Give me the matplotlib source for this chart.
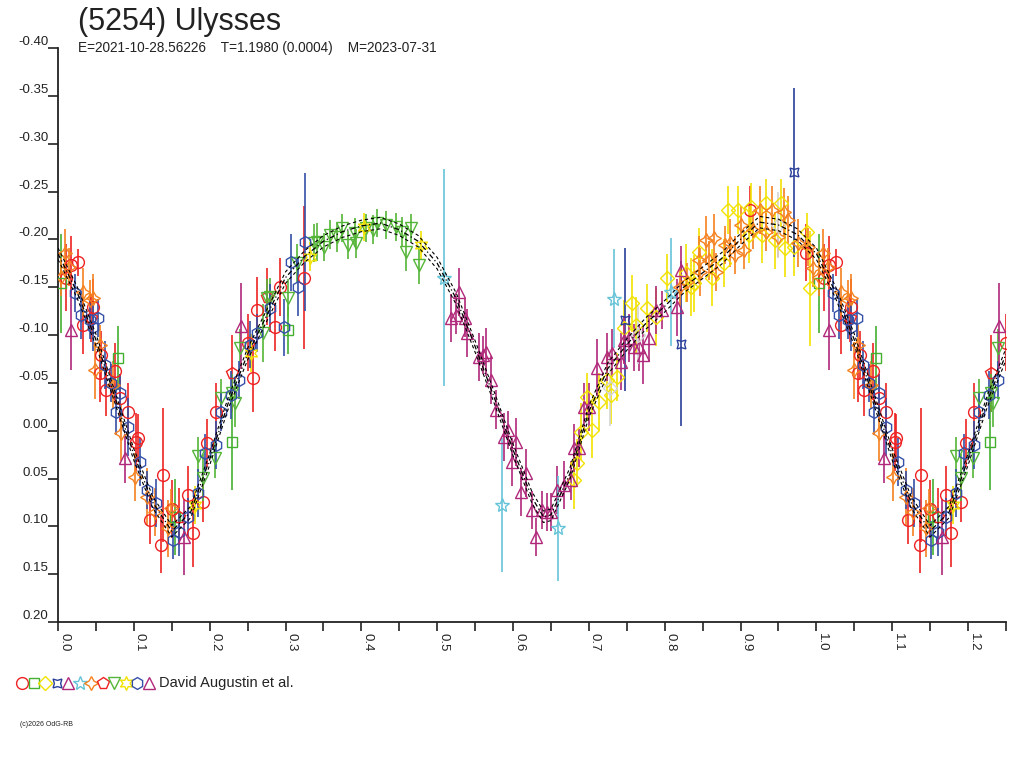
import numpy as np
import matplotlib
matplotlib.use("Agg")
import matplotlib.pyplot as plt

plt.rcParams['font.family'] = ['Liberation Sans', 'DejaVu Sans']

# fitted lightcurve (phase, reduced magnitude)
curve_phase = [0.000, 0.025, 0.050, 0.075, 0.100, 0.125, 0.150, 0.175, 0.200, 0.225,
               0.250, 0.275, 0.300, 0.325, 0.350, 0.375, 0.400, 0.425, 0.450, 0.475,
               0.500, 0.525, 0.550, 0.575, 0.600, 0.625, 0.640, 0.650, 0.675, 0.700,
               0.725, 0.750, 0.775, 0.800, 0.825, 0.850, 0.875, 0.900, 0.925, 0.950,
               0.975, 1.000]
curve_mag = [-0.185, -0.145, -0.095, -0.035, 0.025, 0.075, 0.105, 0.085, 0.030, -0.030,
             -0.080, -0.120, -0.160, -0.182, -0.198, -0.208, -0.214, -0.217, -0.210, -0.198,
             -0.175, -0.138, -0.088, -0.035, 0.020, 0.070, 0.090, 0.088, 0.045, -0.020,
             -0.065, -0.090, -0.112, -0.130, -0.150, -0.165, -0.180, -0.200, -0.218, -0.215,
             -0.205, -0.185]
fit_sigma = 0.006

# observations: (phase, mag, error) per session
red_circle = [(0.010, -0.160, 0.035), (0.017, -0.173, 0.030), (0.026, -0.176, 0.014),
              (0.033, -0.110, 0.030), (0.046, -0.129, 0.030), (0.055, -0.060, 0.030),
              (0.057, -0.079, 0.025), (0.063, -0.043, 0.028), (0.075, -0.062, 0.030),
              (0.082, -0.034, 0.025), (0.092, -0.020, 0.030), (0.103, 0.012, 0.030),
              (0.105, 0.008, 0.025), (0.121, 0.093, 0.025), (0.136, 0.119, 0.030),
              (0.138, 0.046, 0.070), (0.150, 0.082, 0.030), (0.171, 0.067, 0.030),
              (0.178, 0.107, 0.035), (0.191, 0.075, 0.020), (0.197, 0.013, 0.025),
              (0.208, -0.020, 0.030), (0.250, -0.092, 0.030), (0.257, -0.055, 0.035),
              (0.263, -0.126, 0.035), (0.286, -0.108, 0.025), (0.293, -0.150, 0.030),
              (0.325, -0.160, 0.075), (0.913, -0.231, 0.025), (0.986, -0.186, 0.030)]
green_square = [(0.004, -0.154, 0.052), (0.079, -0.076, 0.033), (0.154, 0.090, 0.040),
                (0.229, 0.012, 0.050), (0.303, -0.105, 0.025)]
yellow_diamond = [(0.680, 0.052, 0.030), (0.684, 0.034, 0.025), (0.689, 0.001, 0.030),
                  (0.697, -0.035, 0.025), (0.704, -0.001, 0.030), (0.713, -0.030, 0.030),
                  (0.724, -0.053, 0.030), (0.729, -0.037, 0.030), (0.737, -0.056, 0.025),
                  (0.746, -0.107, 0.030), (0.757, -0.133, 0.030), (0.762, -0.110, 0.030),
                  (0.776, -0.128, 0.025), (0.788, -0.119, 0.030), (0.803, -0.160, 0.025),
                  (0.828, -0.165, 0.030), (0.834, -0.150, 0.030), (0.838, -0.154, 0.030),
                  (0.845, -0.187, 0.025), (0.862, -0.160, 0.030), (0.878, -0.175, 0.025),
                  (0.884, -0.231, 0.025), (0.897, -0.231, 0.025), (0.911, -0.205, 0.030),
                  (0.914, -0.234, 0.025), (0.928, -0.205, 0.030), (0.933, -0.238, 0.025),
                  (0.946, -0.199, 0.030), (0.953, -0.238, 0.025), (0.959, -0.191, 0.030),
                  (0.970, -0.192, 0.030), (0.987, -0.208, 0.020), (0.992, -0.149, 0.060)]
navy_box = [(0.747, -0.116, 0.075), (0.821, -0.091, 0.086), (0.970, -0.270, 0.088)]
purple_tri = [(0.518, -0.118, 0.025), (0.525, -0.121, 0.020), (0.529, -0.145, 0.025),
              (0.536, -0.118, 0.020), (0.539, -0.102, 0.025), (0.555, -0.077, 0.025),
              (0.561, -0.079, 0.020), (0.564, -0.082, 0.025), (0.571, -0.053, 0.025),
              (0.578, -0.022, 0.020), (0.588, 0.007, 0.025), (0.593, -0.001, 0.020),
              (0.599, 0.033, 0.025), (0.604, 0.012, 0.025), (0.610, 0.064, 0.025),
              (0.617, 0.044, 0.025), (0.625, 0.083, 0.020), (0.630, 0.111, 0.020),
              (0.638, 0.083, 0.020), (0.645, 0.085, 0.020), (0.650, 0.085, 0.020),
              (0.658, 0.062, 0.025), (0.667, 0.057, 0.025), (0.676, 0.052, 0.020),
              (0.680, 0.018, 0.025), (0.687, 0.018, 0.020), (0.693, -0.025, 0.025),
              (0.700, -0.025, 0.025), (0.711, -0.066, 0.030), (0.724, -0.077, 0.025),
              (0.730, -0.081, 0.025), (0.742, -0.072, 0.030), (0.746, -0.095, 0.025),
              (0.753, -0.097, 0.025), (0.759, -0.087, 0.025), (0.766, -0.087, 0.025),
              (0.772, -0.079, 0.030), (0.779, -0.097, 0.025), (0.788, -0.126, 0.025),
              (0.796, -0.126, 0.020), (0.816, -0.129, 0.030), (0.821, -0.168, 0.025)]
cyan_star = [(0.509, -0.160, 0.113), (0.585, 0.078, 0.070), (0.659, 0.102, 0.055),
             (0.733, -0.138, 0.052), (0.808, -0.145, 0.056)]
orange_cross = [(0.004, -0.161, 0.020), (0.009, -0.186, 0.025), (0.015, -0.171, 0.020),
                (0.033, -0.145, 0.025), (0.042, -0.137, 0.020), (0.046, -0.139, 0.025),
                (0.049, -0.063, 0.030), (0.055, -0.090, 0.020), (0.072, -0.048, 0.025),
                (0.083, 0.002, 0.030), (0.101, 0.048, 0.025), (0.118, 0.069, 0.030),
                (0.128, 0.085, 0.025), (0.145, 0.102, 0.030), (0.149, 0.081, 0.020),
                (0.820, -0.150, 0.020), (0.830, -0.155, 0.020), (0.845, -0.178, 0.025),
                (0.847, -0.166, 0.025), (0.854, -0.199, 0.025), (0.858, -0.178, 0.020),
                (0.865, -0.201, 0.025), (0.867, -0.166, 0.020), (0.880, -0.194, 0.020),
                (0.886, -0.196, 0.025), (0.893, -0.184, 0.020), (0.900, -0.215, 0.020),
                (0.904, -0.189, 0.020), (0.917, -0.210, 0.020), (0.926, -0.231, 0.025),
                (0.934, -0.208, 0.020), (0.941, -0.231, 0.025), (0.950, -0.202, 0.020),
                (0.957, -0.229, 0.025), (0.963, -0.220, 0.025), (0.976, -0.196, 0.025),
                (0.989, -0.192, 0.020), (0.995, -0.170, 0.020)]
red_pentagon = [(0.044, -0.118, 0.025), (0.160, 0.090, 0.030), (0.230, -0.060, 0.040),
                (0.275, -0.140, 0.030)]
green_vtri = [(0.184, 0.027, 0.020), (0.191, 0.049, 0.025), (0.207, 0.029, 0.020),
              (0.215, -0.034, 0.020), (0.230, -0.039, 0.020), (0.233, -0.029, 0.025),
              (0.240, -0.086, 0.020), (0.270, -0.102, 0.030), (0.276, -0.139, 0.020),
              (0.279, -0.140, 0.020), (0.303, -0.139, 0.020), (0.315, -0.175, 0.020),
              (0.338, -0.196, 0.020), (0.342, -0.197, 0.020), (0.351, -0.192, 0.015),
              (0.358, -0.205, 0.015), (0.368, -0.202, 0.015), (0.375, -0.212, 0.015),
              (0.382, -0.194, 0.015), (0.391, -0.207, 0.015), (0.393, -0.196, 0.015),
              (0.406, -0.212, 0.015), (0.415, -0.210, 0.015), (0.421, -0.217, 0.015),
              (0.433, -0.215, 0.015), (0.446, -0.213, 0.015), (0.454, -0.208, 0.015),
              (0.459, -0.187, 0.020), (0.466, -0.212, 0.015), (0.476, -0.173, 0.020)]
yellow_star = [(0.180, 0.078, 0.020), (0.254, -0.081, 0.020), (0.332, -0.182, 0.015),
               (0.404, -0.213, 0.015), (0.479, -0.194, 0.015)]
blue_hex = [(0.022, -0.144, 0.020), (0.030, -0.121, 0.025), (0.042, -0.116, 0.020),
            (0.046, -0.108, 0.025), (0.053, -0.118, 0.020), (0.062, -0.069, 0.025),
            (0.070, -0.050, 0.020), (0.076, -0.020, 0.025), (0.082, -0.039, 0.020),
            (0.092, -0.004, 0.030), (0.108, 0.033, 0.025), (0.118, 0.062, 0.020),
            (0.129, 0.076, 0.025), (0.151, 0.114, 0.020), (0.160, 0.106, 0.025),
            (0.171, 0.090, 0.020), (0.184, 0.065, 0.025), (0.194, 0.023, 0.020),
            (0.208, 0.015, 0.025), (0.215, -0.020, 0.020), (0.228, -0.037, 0.025),
            (0.239, -0.053, 0.020), (0.253, -0.090, 0.025), (0.263, -0.102, 0.020),
            (0.280, -0.128, 0.025), (0.298, -0.108, 0.030), (0.307, -0.176, 0.030),
            (0.316, -0.150, 0.030), (0.326, -0.197, 0.072)]
magenta_sym = [(0.017, -0.105, 0.042), (0.089, 0.029, 0.026), (0.166, 0.111, 0.040),
               (0.241, -0.109, 0.045)]
grey_diamond = [(0.728, -0.045, 0.040), (0.765, -0.100, 0.030), (0.950, -0.215, 0.035)]

sessions = [
    (red_circle, '#ee2222', 'o', 8.5),
    (green_square, '#44b030', 's', 7),
    (yellow_diamond, '#f2e200', 'D', 7),
    (navy_box, '#2a3f9a', (4, 1, 45), 9),
    (purple_tri, '#b0287a', '^', 8),
    (cyan_star, '#66c4d8', '*', 10),
    (orange_cross, '#f58220', (4, 1, 0), 10),
    (red_pentagon, '#ee2222', 'p', 8.5),
    (green_vtri, '#55b538', 'v', 8),
    (yellow_star, '#f2e200', (6, 1, 0), 10),
    (blue_hex, '#3550a8', 'h', 8.5),
    (magenta_sym, '#b0287a', '^', 8),
    (grey_diamond, '#d4d4d4', 'D', 7),
]

fig = plt.figure(figsize=(10.24, 7.68), dpi=100)
ax = fig.add_axes([58 / 1024, 1 - 622 / 768, 948 / 1024, 574 / 768])

for data, col, mk, ms in sessions:
    ph = np.array([d[0] for d in data])
    mg = np.array([d[1] for d in data])
    er = np.array([d[2] for d in data])
    # repeat the first quarter of the cycle past phase 1.0
    wrap = ph <= 0.25
    ph = np.concatenate([ph, ph[wrap] + 1])
    mg = np.concatenate([mg, mg[wrap]])
    er = np.concatenate([er, er[wrap]])
    ax.errorbar(ph, mg, yerr=er, fmt='none', ecolor=col, elinewidth=1.2, zorder=2)
    ax.plot(ph, mg, ls='none', marker=mk, ms=ms, mfc='none', mec=col, mew=1.0, zorder=3)

cp = np.array(curve_phase)
cm = np.array(curve_mag)
sel = cp[1:] <= 0.25
cp = np.concatenate([cp, cp[1:][sel] + 1])
cm = np.concatenate([cm, cm[1:][sel]])
ax.plot(cp, cm, color='black', lw=0.9, ls=(0, (4, 2, 1, 2)), zorder=5)
ax.plot(cp, cm - fit_sigma, color='black', lw=0.8, ls=(0, (3, 2.5)), zorder=5)
ax.plot(cp, cm + fit_sigma, color='black', lw=0.8, ls=(0, (3, 2.5)), zorder=5)

ax.set_xlim(0, 1.25)
ax.set_ylim(0.20, -0.40)
xt = np.arange(0, 1.21, 0.1)
ax.set_xticks(xt)
ax.set_xticks(np.arange(0.05, 1.26, 0.1), minor=True)
ax.set_xticklabels(['%.1f' % v for v in xt])
yt = np.round(np.arange(-0.40, 0.201, 0.05), 2)
ax.set_yticks(yt)
ax.set_yticklabels(['%.2f' % (v + 0.0) for v in yt])
for s in ['top', 'right']:
    ax.spines[s].set_visible(False)
for s in ['left', 'bottom']:
    ax.spines[s].set_color('#222222')
    ax.spines[s].set_linewidth(1.3)
ax.tick_params(axis='y', length=7, width=1.2, pad=0, labelsize=9.5, colors='#222222')
ax.tick_params(axis='x', which='both', length=6.5, width=1.2, pad=1.5,
               labelsize=9.5, colors='#222222', labelrotation=270)
for lab in ax.get_yticklabels():
    lab.set_va('bottom')
for lab in ax.get_xticklabels():
    lab.set_ha('left')
    lab.set_va('top')

fig.text(78 / 1024, 1 - 22 / 768, '(5254) Ulysses', fontsize=22, va='center', color='#222222')
fig.text(78 / 1024, 1 - 48 / 768,
         'E=2021-10-28.56226    T=1.1980 (0.0004)    M=2023-07-31',
         fontsize=9.8, va='center', color='#222222')

# legend row of session symbols
lax = fig.add_axes([0, 0, 1, 1], facecolor='none')
lax.set_xlim(0, 1024)
lax.set_ylim(768, 0)
lax.axis('off')
for i, (data, col, mk, ms) in enumerate(sessions[:12]):
    lax.plot(22 + i * 11.5, 683, marker=mk, ms=ms, mfc='none', mec=col, mew=1.0)
lax.text(159, 683, 'David Augustin et al.', fontsize=10.5, va='center', color='#222222')
lax.text(20, 724, '(c)2026 OdG-RB', fontsize=5, va='center', color='#222222')

fig.savefig('out.png', dpi=100)
